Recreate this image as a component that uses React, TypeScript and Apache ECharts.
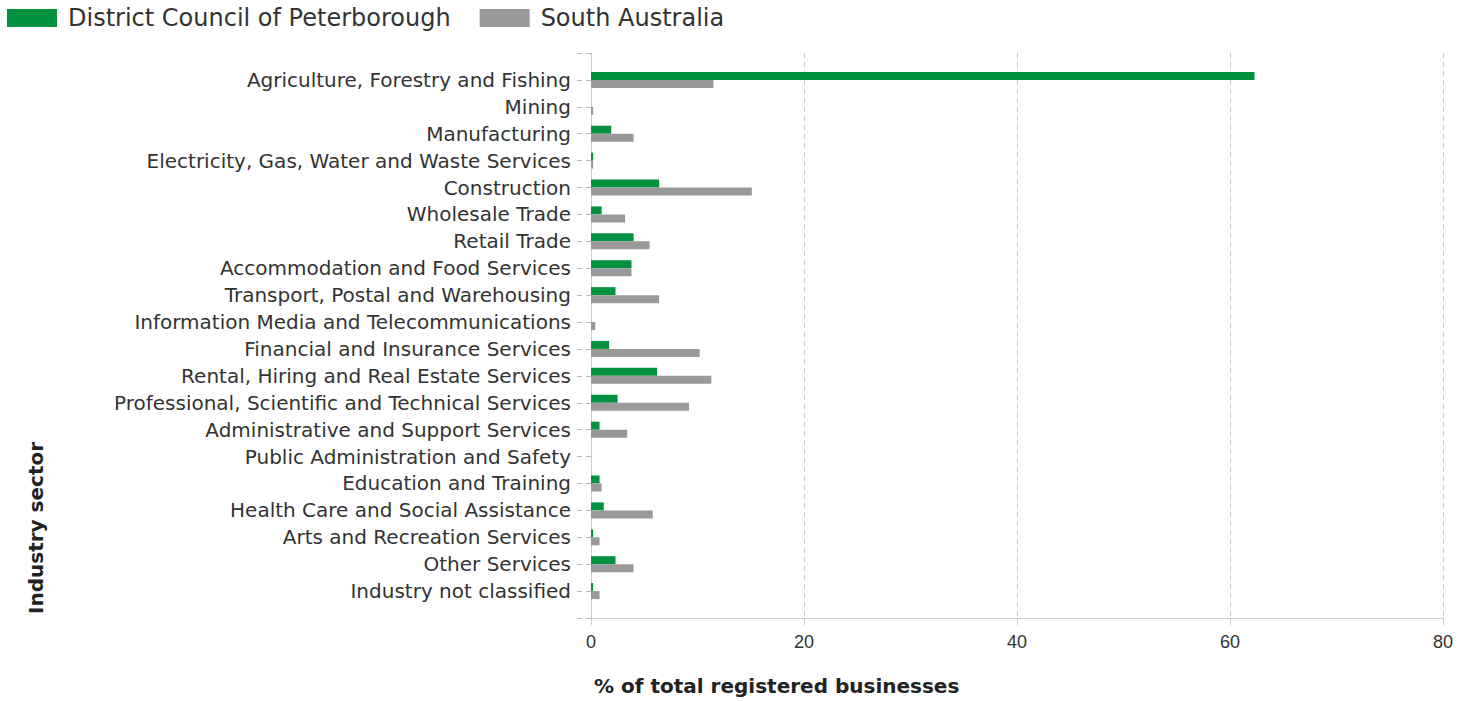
import React, { useEffect, useRef } from "react";
import * as echarts from "echarts";

const categories = [
  "Agriculture, Forestry and Fishing",
  "Mining",
  "Manufacturing",
  "Electricity, Gas, Water and Waste Services",
  "Construction",
  "Wholesale Trade",
  "Retail Trade",
  "Accommodation and Food Services",
  "Transport, Postal and Warehousing",
  "Information Media and Telecommunications",
  "Financial and Insurance Services",
  "Rental, Hiring and Real Estate Services",
  "Professional, Scientific and Technical Services",
  "Administrative and Support Services",
  "Public Administration and Safety",
  "Education and Training",
  "Health Care and Social Assistance",
  "Arts and Recreation Services",
  "Other Services",
  "Industry not classified",
];

const peterborough = [62.3, 0, 1.9, 0.2, 6.4, 1.0, 4.0, 3.8, 2.3, 0, 1.7, 6.2, 2.5, 0.8, 0, 0.8, 1.2, 0.2, 2.3, 0.2];
const southAustralia = [11.5, 0.2, 4.0, 0.2, 15.1, 3.2, 5.5, 3.8, 6.4, 0.4, 10.2, 11.3, 9.2, 3.4, 0, 1.0, 5.8, 0.8, 4.0, 0.8];

const xTicks = [0, 20, 40, 60, 80];

const seriesNames = ["District Council of Peterborough", "South Australia"];
const colors = ["#00923f", "#999999"];

export default function App() {
  const ref = useRef<HTMLDivElement>(null);
  useEffect(() => {
    if (!ref.current) return;
    const chart = echarts.init(ref.current, undefined, { renderer: "svg" });
    const font = "'DejaVu Sans', sans-serif";
    const fontNum = "'Liberation Sans', Arial, sans-serif";
    const cats = ["", ...categories, ""];
    const pad = (a: number[]) => [null, ...a, null];
    chart.setOption({
      animation: false,
      textStyle: { fontFamily: font },
      legend: {
        left: 2,
        top: 1,
        icon: "rect",
        itemWidth: 50,
        itemHeight: 18,
        itemGap: 29,
        textStyle: { fontSize: 24, color: "#333", fontFamily: font, padding: [0, 0, 0, 6] },
        data: seriesNames,
      },
      grid: { left: 591, right: 29, top: 53, bottom: 83, containLabel: false },
      xAxis: {
        type: "value",
        min: xTicks[0],
        max: xTicks[xTicks.length - 1],
        interval: 20,
        axisLine: { show: true, lineStyle: { color: "#cccccc" } },
        axisTick: { show: true, length: 7, lineStyle: { color: "#cccccc" } },
        axisLabel: { fontSize: 18, color: "#333", margin: 15, fontFamily: fontNum },
        splitLine: { show: true, lineStyle: { color: "#cccccc", type: [5, 4] } },
      },
      yAxis: {
        type: "category",
        inverse: true,
        boundaryGap: false,
        data: cats,
        axisLine: { show: true, lineStyle: { color: "#cccccc" } },
        axisTick: { show: true, length: 15, lineStyle: { color: "#bbbbbb", type: [5, 4] } },
        axisLabel: { fontSize: 20, color: "#333", margin: 20, fontFamily: font, interval: 0 },
        splitLine: { show: false },
      },
      series: [
        {
          name: seriesNames[0],
          type: "bar",
          data: pad(peterborough),
          barWidth: 8,
          barGap: "0%",
          itemStyle: { color: colors[0] },
        },
        {
          name: seriesNames[1],
          type: "bar",
          data: pad(southAustralia),
          barWidth: 8,
          barGap: "0%",
          itemStyle: { color: colors[1] },
        },
      ],
      graphic: [
        {
          type: "text",
          left: 594,
          top: 676,
          style: {
            text: "% of total registered businesses",
            font: `bold 20px ${font}`,
            fill: "#222",
          },
        },
        {
          type: "text",
          x: 26,
          y: 614,
          rotation: Math.PI / 2,
          style: {
            text: "Industry sector",
            font: `bold 20px ${font}`,
            fill: "#222",
            align: "left",
            verticalAlign: "top",
          },
        },
      ],
    });
    return () => chart.dispose();
  }, []);
  return <div ref={ref} style={{ width: 1472, height: 701, position: "absolute", left: 0, top: 0 }} />;
}
